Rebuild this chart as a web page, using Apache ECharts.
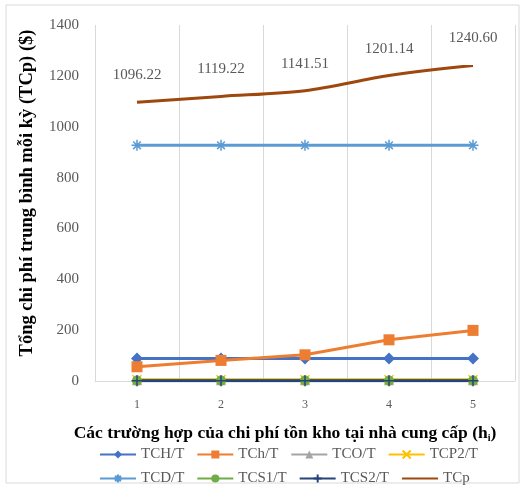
<!DOCTYPE html>
<html>
<head>
<meta charset="utf-8">
<script src="https://cdn.jsdelivr.net/npm/echarts@6/dist/echarts.min.js"></script>
<style>
  html, body { margin: 0; padding: 0; background: #fff; }
  #chart { width: 525px; height: 487px; }
</style>
</head>
<body>
<div id="chart"></div>
<script>
// du lieu doc tu hinh
const categories = ['1', '2', '3', '4', '5']
const tchT = [88, 88, 88, 88, 88]
const tchLowT = [56, 81, 103, 162, 199]
const tcoT = [3, 3, 3, 3, 3]
const tcp2T = [5, 5, 5, 5, 5]
const tcdT = [927, 927, 927, 927, 927]
const tcs1T = [1.5, 1.5, 1.5, 1.5, 1.5]
const tcs2T = [0.5, 0.5, 0.5, 0.5, 0.5]
const tcp = [1096.22, 1119.22, 1141.51, 1201.14, 1240.60]
const yTicks = [0, 1400, 200] // min, max, step

const serif = 'Liberation Serif'
const grayText = '#595959'

const asterisk = 'path://M5,0L5,10M0,5L10,5M1.5,1.5L8.5,8.5M8.5,1.5L1.5,8.5'
const cross = 'path://M0,0L10,10M10,0L0,10'
const plus = 'path://M5,0L5,10M0,5L10,5'

function lineSeries(name, data, color, symbol, size, stroked) {
  return {
    name: name,
    type: 'line',
    data: data,
    symbol: symbol,
    symbolSize: size,
    lineStyle: { color: color, width: 3 },
    itemStyle: stroked
      ? { color: 'none', borderColor: color, borderWidth: 1.5 }
      : { color: color },
    emphasis: { disabled: true }
  }
}

const legendText = { fontFamily: serif, fontSize: 15, color: grayText }

const myChart = echarts.init(document.getElementById('chart'))
myChart.setOption({
  animation: false,
  textStyle: { fontFamily: serif },
  graphic: [
    {
      type: 'rect',
      shape: { x: 6, y: 5, width: 513, height: 478 },
      style: { fill: 'none', stroke: '#d9d9d9', lineWidth: 1 },
      silent: true
    }
  ],
  grid: {
    left: 95,
    right: 10,
    top: 25,
    bottom: 106
  },
  legend: [
    {
      left: 94,
      top: 442,
      itemWidth: 36,
      itemHeight: 10,
      itemGap: 12,
      textStyle: legendText,
      data: ['TCH/T', 'TCh/T', 'TCO/T', 'TCP2/T']
    },
    {
      left: 94,
      top: 466,
      itemWidth: 36,
      itemHeight: 10,
      itemGap: 12,
      textStyle: legendText,
      data: ['TCD/T', 'TCS1/T', 'TCS2/T', 'TCp']
    }
  ],
  xAxis: {
    type: 'category',
    data: categories,
    boundaryGap: true,
    axisLine: { lineStyle: { color: '#d9d9d9', width: 1 } },
    axisTick: { show: false },
    axisLabel: { color: grayText, fontSize: 12, margin: 18, fontFamily: serif },
    splitLine: { show: true, lineStyle: { color: '#d9d9d9', width: 1 } },
    name: '{b|Các trường hợp của chi phí tồn kho tại nhà cung cấp (h}{s|i}{b|)}',
    nameLocation: 'middle',
    nameGap: 42,
    nameTextStyle: {
      padding: [0, 40, 0, 0],
      rich: {
        b: { fontFamily: serif, fontSize: 17.5, fontWeight: 'bold', color: '#000' },
        s: { fontFamily: serif, fontSize: 10, fontWeight: 'bold', color: '#000', padding: [10, 0, 0, 0] }
      }
    }
  },
  yAxis: {
    type: 'value',
    min: yTicks[0],
    max: yTicks[1],
    interval: yTicks[2],
    axisLine: { show: false },
    axisTick: { show: false },
    splitLine: { show: false },
    axisLabel: {
      color: grayText,
      fontSize: 15,
      margin: 16,
      fontFamily: serif,
      formatter: v => String(v)
    },
    name: 'Tổng chi phí trung bình mỗi kỳ (TCp) ($)',
    nameLocation: 'middle',
    nameGap: 58,
    nameTextStyle: {
      fontFamily: serif,
      fontSize: 18.5,
      fontWeight: 'bold',
      color: '#000',
      padding: [0, 0, 0, 20]
    }
  },
  series: [
    lineSeries('TCH/T', tchT, '#4472C4', 'diamond', 12, false),
    lineSeries('TCh/T', tchLowT, '#ED7D31', 'rect', 11, false),
    lineSeries('TCO/T', tcoT, '#A5A5A5', 'triangle', 10, false),
    lineSeries('TCP2/T', tcp2T, '#FFC000', cross, 9, true),
    lineSeries('TCD/T', tcdT, '#5B9BD5', asterisk, 11, true),
    lineSeries('TCS1/T', tcs1T, '#70AD47', 'circle', 10, false),
    lineSeries('TCS2/T', tcs2T, '#264478', plus, 11, true),
    Object.assign(lineSeries('TCp', tcp, '#9E480E', 'circle', 1, false), {
      smooth: 0.3,
      itemStyle: { color: 'rgba(0,0,0,0)' },
      label: {
        show: true,
        position: 'top',
        distance: 19,
        color: grayText,
        fontSize: 15,
        fontFamily: serif,
        formatter: p => p.value.toFixed(2)
      }
    })
  ]
})
</script>
</body>
</html>
